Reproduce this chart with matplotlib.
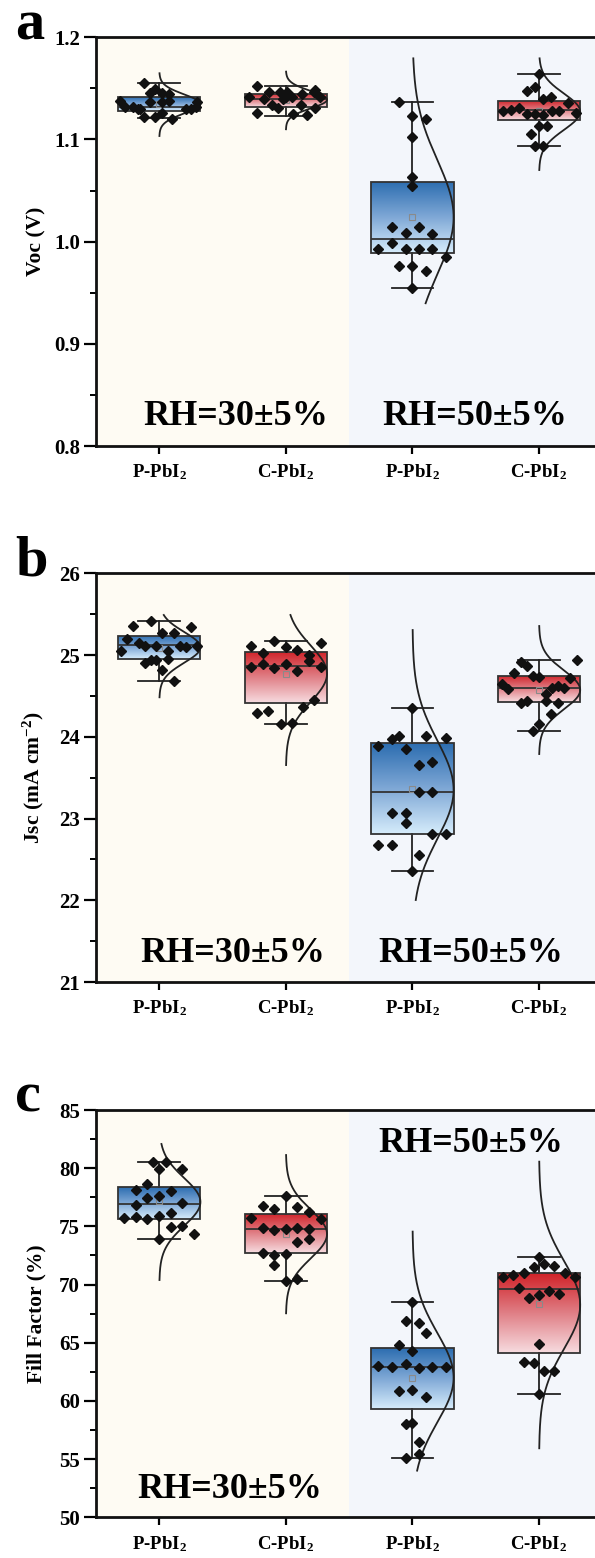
import numpy as np
import matplotlib
matplotlib.use('Agg')
import matplotlib.pyplot as plt
from matplotlib.colors import LinearSegmentedColormap

plt.rcParams['font.family'] = ['Liberation Serif', 'DejaVu Serif']
plt.rcParams['font.weight'] = 'bold'
plt.rcParams['mathtext.fontset'] = 'custom'
plt.rcParams['mathtext.rm'] = 'Liberation Serif:bold'
plt.rcParams['mathtext.bf'] = 'Liberation Serif:bold'
plt.rcParams['mathtext.it'] = 'Liberation Serif:bold:italic'

# ---------------- data ----------------
categories = ['P-PbI$_{\\mathrm{2}}$', 'C-PbI$_{\\mathrm{2}}$', 'P-PbI$_{\\mathrm{2}}$', 'C-PbI$_{\\mathrm{2}}$']
conditions = ['RH=30\u00b15%', 'RH=50\u00b15%']

# ---- Voc (V) ----
voc_p30_y = [1.1556, 1.149, 1.1452, 1.1452, 1.1445, 1.137, 1.137, 1.1377, 1.138, 1.132, 1.132,
             1.1296, 1.1296, 1.1224, 1.1224, 1.1256, 1.1198, 1.1296, 1.1296, 1.132, 1.137]
voc_p30_dx = [-0.12, -0.03, -0.07, 0.02, 0.08, -0.07, 0.02, 0.08, -0.31, -0.27, -0.21,
              -0.17, -0.15, -0.12, -0.03, 0.02, 0.10, 0.21, 0.25, 0.29, 0.30]
voc_c30_y = [1.1524, 1.1413, 1.140, 1.1465, 1.1338, 1.1305, 1.1465, 1.1413, 1.1465, 1.1413,
             1.125, 1.1338, 1.1442, 1.1237, 1.1468, 1.1305, 1.1413, 1.1256, 1.1485, 1.1395]
voc_c30_dx = [-0.23, -0.29, -0.17, -0.13, -0.11, -0.06, -0.05, 0.0, 0.01, 0.05,
              0.06, 0.12, 0.13, 0.17, 0.22, 0.23, 0.27, -0.23, 0.23, -0.02]
voc_p50_y = [1.1364, 1.123, 1.1197, 1.1028, 1.063, 1.0548, 1.014, 1.0082, 1.014, 1.0072,
             0.9932, 0.999, 0.9925, 0.9932, 0.9932, 0.9853, 0.9765, 0.9765, 0.9716, 0.9543]
voc_p50_dx = [-0.105, 0.0, 0.108, 0.0, 0.0, 0.0, -0.163, -0.053, 0.053, 0.158,
              -0.27, -0.163, -0.053, 0.053, 0.158, 0.265, -0.105, 0.0, 0.108, 0.0]
voc_c50_y = [1.1638, 1.1478, 1.1517, 1.1396, 1.1413, 1.136, 1.1282, 1.1289, 1.1311, 1.125,
             1.125, 1.124, 1.1279, 1.1279, 1.1262, 1.1132, 1.1132, 1.1051, 1.0936, 1.0936]
voc_c50_dx = [0.0, -0.097, -0.03, 0.034, 0.095, 0.232, -0.287, -0.223, -0.155, -0.097,
              -0.03, 0.034, 0.10, 0.16, 0.29, 0.0, 0.066, -0.063, -0.03, 0.034]
voc_q1 = [1.128, 1.1315, 0.9892, 1.1188]
voc_med = [1.1315, 1.140, 1.0026, 1.1285]
voc_q3 = [1.1413, 1.1449, 1.0587, 1.138]
voc_wlo = [1.121, 1.1227, 0.9543, 1.0936]
voc_whi = [1.1556, 1.152, 1.1364, 1.1638]
voc_mean = [1.135, 1.139, 1.0241, 1.128]
voc_curve_lo = [1.1034, 1.110, 0.9397, 1.0701]
voc_curve_hi = [1.1648, 1.1664, 1.1794, 1.1794]

# ---- Jsc (mA cm-2) ----
jsc_p30_y = [25.42, 25.355, 25.347, 25.274, 25.274, 25.192, 25.143, 25.11, 25.11, 25.11,
             25.102, 25.11, 25.049, 25.049, 24.951, 24.899, 24.94, 24.94, 24.817, 24.682]
jsc_p30_dx = [-0.068, -0.208, 0.247, 0.024, 0.115, -0.253, -0.161, -0.116, -0.024, 0.16,
              0.208, 0.30, -0.30, 0.068, 0.068, -0.116, -0.068, -0.024, 0.024, 0.115]
jsc_c30_y = [25.176, 25.11, 25.143, 25.102, 25.061, 25.02, 25.0, 24.93, 24.85, 24.887,
             24.838, 24.887, 24.81, 24.858, 24.45, 24.368, 24.294, 24.315, 24.156, 24.172]
jsc_c30_dx = [-0.095, -0.273, 0.274, 0.0, 0.09, -0.178, 0.182, 0.182, -0.273, -0.178,
              -0.095, 0.0, 0.09, 0.274, 0.226, 0.137, -0.226, -0.139, -0.042, 0.045]
jsc_p50_y = [24.356, 23.969, 24.013, 24.009, 23.98, 23.887, 23.847, 23.655, 23.695, 23.328,
             23.328, 23.071, 23.071, 22.94, 22.81, 22.81, 22.676, 22.676, 22.553, 22.361]
jsc_p50_dx = [0.0, -0.163, -0.105, 0.108, 0.265, -0.27, -0.053, 0.053, 0.158, 0.053,
              0.158, -0.163, -0.053, -0.053, 0.158, 0.265, -0.27, -0.163, 0.053, 0.0]
jsc_c50_y = [24.918, 24.87, 24.939, 24.776, 24.747, 24.735, 24.715, 24.641, 24.58, 24.6,
             24.621, 24.6, 24.519, 24.417, 24.441, 24.441, 24.417, 24.274, 24.152, 24.075]
jsc_c50_dx = [-0.145, -0.097, 0.297, -0.197, -0.05, 0.0, 0.245, -0.294, -0.247, 0.10,
              0.147, 0.197, 0.053, -0.145, -0.097, 0.053, 0.147, 0.095, 0.0, -0.05]
jsc_q1 = [24.947, 24.409, 22.81, 24.42]
jsc_med = [25.118, 24.87, 23.328, 24.60]
jsc_q3 = [25.233, 25.041, 23.92, 24.747]
jsc_wlo = [24.682, 24.156, 22.361, 24.075]
jsc_whi = [25.42, 25.176, 24.356, 24.939]
jsc_mean = [25.09, 24.768, 23.361, 24.572]
jsc_curve_lo = [24.483, 23.654, 22.003, 23.789]
jsc_curve_hi = [25.49, 25.49, 25.306, 25.355]

# ---- Fill factor (%) ----
ff_p30_y = [80.56, 80.56, 79.93, 79.93, 78.64, 78.13, 78.07, 77.41, 77.61, 76.81,
            76.98, 75.69, 75.83, 75.60, 75.89, 76.12, 74.97, 75.03, 74.32, 73.89]
ff_p30_dx = [-0.047, 0.05, 0.0, 0.18, -0.095, -0.187, 0.09, -0.095, 0.0, -0.187,
             0.18, -0.28, -0.187, -0.095, 0.0, 0.09, 0.09, 0.18, 0.273, 0.0]
ff_c30_y = [77.61, 76.75, 76.47, 76.69, 76.26, 75.75, 75.61, 74.83, 74.69, 74.75,
            74.83, 74.75, 73.63, 73.89, 72.74, 72.54, 72.63, 71.68, 70.31, 70.45]
ff_c30_dx = [0.0, -0.18, -0.095, 0.09, 0.182, -0.273, 0.274, -0.18, -0.095, 0.0,
             0.09, 0.182, 0.09, 0.182, -0.18, -0.095, 0.0, -0.095, 0.0, 0.09]
ff_p50_y = [68.48, 66.90, 66.67, 65.87, 64.81, 64.32, 63.00, 62.94, 63.17, 62.80,
            62.89, 62.94, 60.83, 60.94, 60.37, 57.99, 58.08, 56.50, 55.44, 55.13]
ff_p50_dx = [0.0, -0.053, 0.053, 0.108, -0.105, 0.0, -0.27, -0.163, -0.053, 0.053,
             0.158, 0.265, -0.105, 0.0, 0.108, -0.053, 0.0, 0.053, 0.053, -0.053]
ff_c50_y = [72.40, 71.48, 71.74, 71.60, 70.68, 70.82, 70.97, 70.97, 70.68, 69.73,
            69.47, 69.19, 68.82, 69.10, 64.87, 63.37, 63.29, 62.60, 62.60, 60.60]
ff_c50_dx = [0.0, -0.039, 0.039, 0.121, -0.282, -0.203, -0.118, 0.205, 0.284, -0.158,
             0.081, 0.16, -0.079, 0.0, 0.0, -0.118, -0.039, 0.039, 0.121, 0.0]
ff_q1 = [75.65, 72.69, 59.28, 64.15]
ff_med = [76.90, 74.75, 62.89, 69.59]
ff_q3 = [78.38, 76.06, 64.52, 70.97]
ff_wlo = [73.89, 70.31, 55.13, 60.60]
ff_whi = [80.56, 77.61, 68.48, 72.40]
ff_mean = [77.18, 74.32, 62.00, 68.30]
ff_curve_lo = [70.39, 67.53, 54.01, 55.93]
ff_curve_hi = [82.08, 81.13, 74.55, 80.56]

# ---------------- styling / layout ----------------
W, H = 595, 1558
fig = plt.figure(figsize=(W / 100, H / 100), dpi=100)

blue_cmap = LinearSegmentedColormap.from_list('bl', ['#2C6DB0', '#7FA8D6', '#D6ECFB'])
red_cmap = LinearSegmentedColormap.from_list('rd', ['#D02228', '#E07F86', '#F7DCE0'])
box_cmaps = [blue_cmap, red_cmap, blue_cmap, red_cmap]
bg_left, bg_right = '#FEFBF3', '#F3F6FB'

panels = [
    dict(letter='a', top=37.3, bottom=446.0, ylim=(0.8, 1.2), major=0.1, minor=0.05, fmt='{:.1f}',
         ylabel='Voc (V)',
         ys=[voc_p30_y, voc_c30_y, voc_p50_y, voc_c50_y], dxs=[voc_p30_dx, voc_c30_dx, voc_p50_dx, voc_c50_dx],
         q1=voc_q1, med=voc_med, q3=voc_q3, wlo=voc_wlo, whi=voc_whi, mean=voc_mean,
         clo=voc_curve_lo, chi=voc_curve_hi,
         rh=[(143, 425), (382, 425)], letter_y=40),
    dict(letter='b', top=573.3, bottom=982.0, ylim=(21, 26), major=1, minor=0.5, fmt='{:.0f}',
         ylabel='Jsc (mA cm$^{\\mathrm{-2}}$)',
         ys=[jsc_p30_y, jsc_c30_y, jsc_p50_y, jsc_c50_y], dxs=[jsc_p30_dx, jsc_c30_dx, jsc_p50_dx, jsc_c50_dx],
         q1=jsc_q1, med=jsc_med, q3=jsc_q3, wlo=jsc_wlo, whi=jsc_whi, mean=jsc_mean,
         clo=jsc_curve_lo, chi=jsc_curve_hi,
         rh=[(140, 961.7), (378, 961.7)], letter_y=575),
    dict(letter='c', top=1110.0, bottom=1517.3, ylim=(50, 85), major=5, minor=2.5, fmt='{:.0f}',
         ylabel='Fill Factor (%)',
         ys=[ff_p30_y, ff_c30_y, ff_p50_y, ff_c50_y], dxs=[ff_p30_dx, ff_c30_dx, ff_p50_dx, ff_c50_dx],
         q1=ff_q1, med=ff_med, q3=ff_q3, wlo=ff_wlo, whi=ff_whi, mean=ff_mean,
         clo=ff_curve_lo, chi=ff_curve_hi,
         rh=[(137, 1498.3), (378, 1151.7)], letter_y=1111.7),
]

left_px = 96
positions = np.arange(1, len(categories) + 1)
box_w = 0.65
xmin, xmax = 0.5, 4.442

for p in panels:
    ax = fig.add_axes([left_px / W, 1 - p['bottom'] / H, (W - left_px) / W, (p['bottom'] - p['top']) / H])
    ax.set_xlim(xmin, xmax)
    ax.set_ylim(*p['ylim'])
    ax.axvspan(xmin, 2.5, color=bg_left, zorder=0, lw=0)
    ax.axvspan(2.5, xmax, color=bg_right, zorder=0, lw=0)

    stats = []
    for i in range(4):
        stats.append(dict(med=p['med'][i], q1=p['q1'][i], q3=p['q3'][i],
                          whislo=p['wlo'][i], whishi=p['whi'][i], mean=p['mean'][i], fliers=[]))
    bp = ax.bxp(stats, positions=positions, widths=box_w, capwidths=0.33, patch_artist=True,
                showmeans=True, showfliers=False, manage_ticks=False,
                boxprops=dict(facecolor='none', edgecolor='#333333', linewidth=1.3, zorder=3),
                whiskerprops=dict(color='#222222', linewidth=1.3, zorder=2.6),
                capprops=dict(color='#222222', linewidth=1.3, zorder=2.6),
                medianprops=dict(color='#333333', linewidth=1.3, zorder=3.2),
                meanprops=dict(marker='s', markerfacecolor='none', markeredgecolor='#8a8a8a',
                               markersize=4, markeredgewidth=0.8, zorder=3.3))
    for i, patch in enumerate(bp['boxes']):
        grad = np.linspace(0, 1, 256).reshape(-1, 1)
        x0, x1 = positions[i] - box_w / 2, positions[i] + box_w / 2
        im = ax.imshow(grad, cmap=box_cmaps[i], aspect='auto', origin='upper',
                       extent=[x0, x1, p['q1'][i], p['q3'][i]], zorder=2.5, interpolation='bilinear')
        im.set_clip_path(patch)

    # normal distribution curves (from data mean / std)
    for i in range(4):
        yv = np.array(p['ys'][i])
        mu, sd = yv.mean(), yv.std(ddof=1)
        yy = np.linspace(p['clo'][i], p['chi'][i], 300)
        xx = positions[i] + (box_w / 2) * np.exp(-0.5 * ((yy - mu) / sd) ** 2)
        ax.plot(xx, yy, color='#222222', lw=1.3, zorder=3.6)

    # data points
    for i in range(4):
        xs = positions[i] + np.array(p['dxs'][i])
        ax.plot(xs, p['ys'][i], linestyle='none', marker='D', markersize=4.7,
                color='#111111', zorder=4)

    ax.set_xlim(xmin, xmax)
    ax.set_ylim(*p['ylim'])

    ymaj = np.arange(p['ylim'][0], p['ylim'][1] + p['major'] / 2, p['major'])
    ax.set_yticks(ymaj)
    ax.set_yticklabels([p['fmt'].format(v) for v in ymaj])
    ax.set_yticks(np.arange(p['ylim'][0], p['ylim'][1] + 1e-9, p['minor']), minor=True)
    ax.set_xticks(positions)
    ax.set_xticklabels(categories)
    ax.tick_params(axis='y', which='major', direction='out', length=8.5, width=1.6, labelsize=15, pad=3)
    ax.tick_params(axis='y', which='minor', direction='out', length=4.5, width=1.4)
    ax.tick_params(axis='x', which='major', direction='out', length=6, width=1.6, labelsize=13.5, pad=6)
    for s in ['left', 'bottom', 'top']:
        ax.spines[s].set_linewidth(2.0)
        ax.spines[s].set_color('#111111')
    ax.spines['right'].set_visible(False)

    ax.set_ylabel(p['ylabel'], fontsize=15.5, fontweight='bold')
    ax.yaxis.set_label_coords(-0.10, 0.5)

    for (tx, ty), lab in zip(p['rh'], conditions):
        fig.text(tx / W, 1 - ty / H, lab, fontsize=26, fontweight='bold', ha='left', va='baseline')
    fig.text(15 / W, 1 - p['letter_y'] / H, p['letter'], fontsize=42, fontweight='bold',
             ha='left', va='baseline')

fig.savefig('out.png', dpi=100)
